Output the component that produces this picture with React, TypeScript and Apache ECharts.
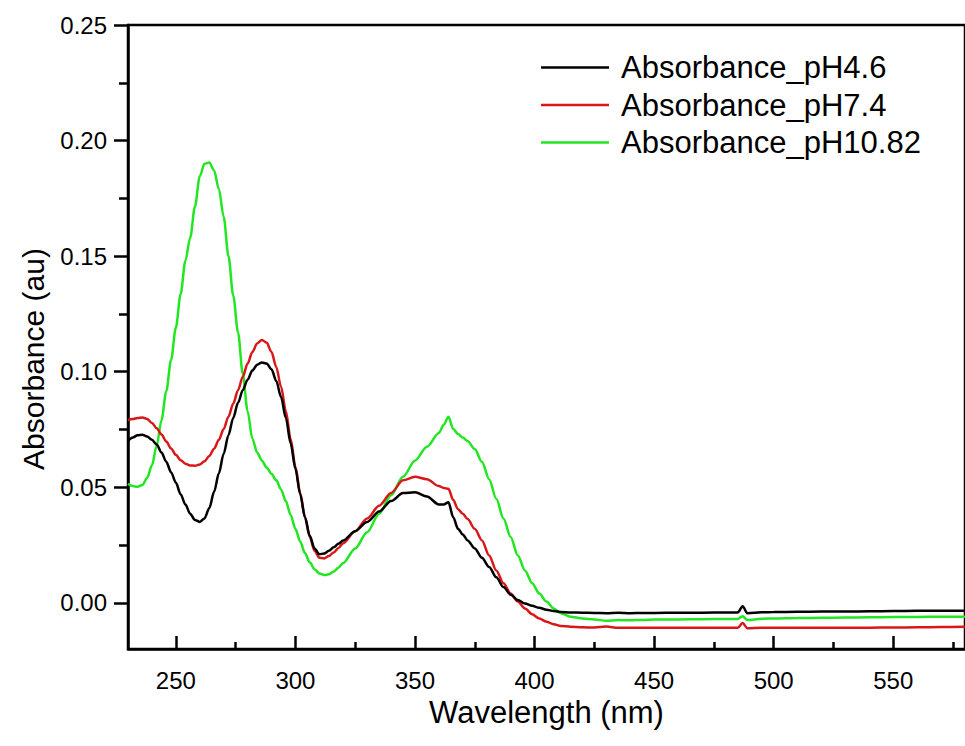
import React, { useEffect, useRef } from "react";
import * as echarts from "echarts";

const wavelengths = [
  230, 232, 234, 236, 238, 240, 242, 244, 246, 248, 250, 252, 254, 256, 258, 260, 262, 264, 266, 268,
  270, 272, 274, 276, 278, 280, 282, 284, 286, 288, 290, 292, 294, 296, 298, 300, 302, 304, 306, 308,
  310, 312, 314, 316, 318, 320, 325, 330, 335, 340, 345, 350, 355, 360, 362, 364, 366, 368, 370, 372,
  375, 378, 381, 384, 387, 390, 393, 396, 399, 402, 405, 408, 411, 415, 420, 425, 430, 435, 440, 445,
  450, 460, 470, 480, 485, 487, 489, 495, 500, 510, 520, 530, 540, 550, 560, 570, 580,
];

const absPH46 = [
  0.07, 0.0715, 0.0725, 0.0727, 0.072, 0.0705, 0.0685, 0.065, 0.061, 0.0565, 0.052, 0.047, 0.0425, 0.0385, 0.0358, 0.035, 0.0365, 0.041, 0.048, 0.056,
  0.0645, 0.0725, 0.08, 0.0865, 0.092, 0.0965, 0.1005, 0.103, 0.104, 0.1035, 0.101, 0.096, 0.089, 0.08, 0.069, 0.058, 0.047, 0.037, 0.029, 0.0235,
  0.021, 0.0213, 0.0225, 0.024, 0.0255, 0.027, 0.031, 0.035, 0.0395, 0.044, 0.0475, 0.0478, 0.046, 0.0425, 0.0425, 0.0435, 0.037, 0.032, 0.0295, 0.027,
  0.0235, 0.0195, 0.0155, 0.011, 0.0068, 0.0035, 0.0012, -0.0003, -0.0013, -0.0022, -0.003, -0.0036, -0.004, -0.0042, -0.0043, -0.0044, -0.0045, -0.0043, -0.0045, -0.0044,
  -0.0044, -0.0043, -0.0043, -0.0042, -0.0042, -0.0015, -0.0045, -0.0041, -0.004, -0.0039, -0.0038, -0.0038, -0.0037, -0.0036, -0.0035, -0.0034, -0.0034,
];

const absPH74 = [
  0.079, 0.0795, 0.08, 0.0802, 0.0795, 0.0778, 0.0755, 0.0728, 0.0698, 0.0668, 0.064, 0.0617, 0.0602, 0.0594, 0.0593, 0.0598, 0.0612, 0.0635, 0.0667, 0.0705,
  0.0752, 0.0805, 0.0862, 0.092, 0.0978, 0.1035, 0.1085, 0.1122, 0.1137, 0.1125, 0.1085, 0.102, 0.0935, 0.083, 0.071, 0.059, 0.0475, 0.037, 0.0285, 0.0225,
  0.0195, 0.0192, 0.0202, 0.0218, 0.0237, 0.0258, 0.031, 0.0365, 0.042, 0.0475, 0.053, 0.0545, 0.0535, 0.0505, 0.0497, 0.0493, 0.0445, 0.0405, 0.0385, 0.0362,
  0.032, 0.027, 0.0205, 0.014, 0.0085, 0.004, 0.0005, -0.0025, -0.005, -0.0068, -0.0082, -0.0093, -0.01, -0.0104, -0.0106, -0.0107, -0.0103, -0.0108, -0.0108, -0.0108,
  -0.0108, -0.0108, -0.0108, -0.0108, -0.0108, -0.0088, -0.011, -0.0108, -0.0108, -0.0108, -0.0108, -0.0108, -0.0108, -0.0107, -0.0106, -0.0105, -0.0104,
];

const absPH1082 = [
  0.0515, 0.0505, 0.0502, 0.051, 0.054, 0.0595, 0.068, 0.079, 0.0915, 0.105, 0.119, 0.1335, 0.148, 0.158, 0.1715, 0.1845, 0.19, 0.1905, 0.187, 0.179,
  0.167, 0.15, 0.133, 0.117, 0.099, 0.083, 0.071, 0.065, 0.0615, 0.0585, 0.0558, 0.053, 0.049, 0.044, 0.038, 0.032, 0.0265, 0.0215, 0.0175, 0.0145,
  0.0127, 0.012, 0.0123, 0.0135, 0.0152, 0.0172, 0.0235, 0.0305, 0.0385, 0.0465, 0.0545, 0.0615, 0.0675, 0.0735, 0.077, 0.0805, 0.0752, 0.073, 0.0715, 0.07,
  0.0665, 0.061, 0.0535, 0.045, 0.0365, 0.0285, 0.0205, 0.014, 0.0085, 0.004, 0.0005, -0.0025, -0.0045, -0.006, -0.0068, -0.0072, -0.0078, -0.0075, -0.0076, -0.0074,
  -0.0072, -0.0072, -0.0071, -0.007, -0.007, -0.0058, -0.0075, -0.0069, -0.0068, -0.0066, -0.0065, -0.0064, -0.0063, -0.0062, -0.0061, -0.006, -0.006,
];

const seriesNames = ["Absorbance_pH4.6", "Absorbance_pH7.4", "Absorbance_pH10.82"];
const seriesColors = ["#000000", "#d81818", "#22e622"];

const xTicks = [250, 300, 350, 400, 450, 500, 550];
const xMinorTicks = [275, 325, 375, 425, 475, 525, 575];
const yTicks = [0, 0.05, 0.1, 0.15, 0.2, 0.25];
const yMinorTicks = [0.025, 0.075, 0.125, 0.175, 0.225];

const FONT = "Liberation Sans, Arial, sans-serif";

export default function App() {
  const ref = useRef<HTMLDivElement>(null);

  useEffect(() => {
    if (!ref.current) return;
    const chart = echarts.init(ref.current, undefined, { renderer: "svg" });
    const allSeries = [absPH46, absPH74, absPH1082];
    const axisLineStyle = { color: "#000", width: 2.5 };
    const tickAxisX = (values: number[], len: number) => ({
      type: "value",
      min: 230,
      max: 580,
      position: "bottom",
      axisLine: { show: false, onZero: false },
      axisTick: { show: true, inside: true, customValues: values, length: len, lineStyle: axisLineStyle },
      axisLabel: { show: false },
      splitLine: { show: false },
    });
    const tickAxisY = (values: number[], len: number) => ({
      type: "value",
      min: -0.02,
      max: 0.25,
      position: "left",
      axisLine: { show: false, onZero: false },
      axisTick: { show: true, customValues: values, length: len, lineStyle: axisLineStyle },
      axisLabel: { show: false },
      splitLine: { show: false },
    });
    chart.setOption({
      animation: false,
      backgroundColor: "#ffffff",
      grid: {
        left: 128,
        top: 25,
        right: -6,
        bottom: 97,
        show: true,
        borderColor: "#000",
        borderWidth: 2.5,
        backgroundColor: "transparent",
      },
      legend: {
        orient: "vertical",
        left: 536,
        top: 47,
        itemWidth: 68,
        itemHeight: 2.5,
        itemGap: 6.5,
        icon: "rect",
        data: seriesNames,
        textStyle: {
          fontFamily: FONT,
          fontSize: 31,
          lineHeight: 31,
          color: "#000",
          padding: [0, 0, 0, 7],
        },
      },
      xAxis: [
        {
          type: "value",
          min: 230,
          max: 580,
          position: "bottom",
          name: "Wavelength (nm)",
          nameLocation: "middle",
          nameGap: 47,
          nameTextStyle: { fontFamily: FONT, fontSize: 31, color: "#000" },
          axisLine: { show: true, onZero: false, lineStyle: axisLineStyle },
          axisTick: { show: false },
          axisLabel: {
            show: true,
            customValues: xTicks,
            fontFamily: FONT,
            fontSize: 24,
            color: "#000",
            margin: 19,
          },
          splitLine: { show: false },
        },
        tickAxisX(xTicks, 13),
        tickAxisX(xMinorTicks, 7),
      ],
      yAxis: [
        {
          type: "value",
          min: -0.02,
          max: 0.25,
          position: "left",
          name: "Absorbance (au)",
          nameLocation: "middle",
          nameGap: 80,
          nameTextStyle: {
            fontFamily: FONT,
            fontSize: 30,
            color: "#000",
            padding: [0, 44, 0, 0],
          },
          axisLine: { show: true, onZero: false, lineStyle: axisLineStyle },
          axisTick: { show: false },
          axisLabel: {
            show: true,
            customValues: yTicks,
            fontFamily: FONT,
            fontSize: 24,
            color: "#000",
            margin: 21,
            formatter: (v: number) => v.toFixed(2),
          },
          splitLine: { show: false },
        },
        tickAxisY(yTicks, 14),
        tickAxisY(yMinorTicks, 9),
      ],
      series: allSeries.map((vals, i) => ({
        name: seriesNames[i],
        type: "line",
        xAxisIndex: 0,
        yAxisIndex: 0,
        data: wavelengths.map((w, j) => [w, vals[j]]),
        showSymbol: false,
        symbol: "none",
        smooth: 0.3,
        smoothMonotone: "x",
        color: seriesColors[i],
        lineStyle: { color: seriesColors[i], width: 2.5 },
        z: 3 - i,
      })),
    });
    return () => chart.dispose();
  }, []);

  return (
    <div
      ref={ref}
      style={{ position: "fixed", left: 0, top: 0, width: 965, height: 746, background: "#fff" }}
    />
  );
}
